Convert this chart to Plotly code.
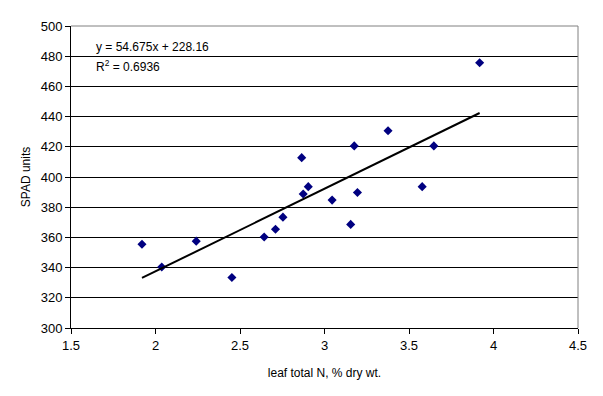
import plotly.graph_objects as go

leaf_n = [1.920, 2.037, 2.241, 2.452, 2.643, 2.710, 2.754, 2.865, 2.874,
          2.904, 3.045, 3.155, 3.176, 3.195, 3.376, 3.578, 3.647, 3.918]
spad = [355.5, 340.4, 357.5, 333.4, 360.3, 365.4, 373.4, 412.8, 388.7,
        393.6, 384.7, 368.6, 420.6, 389.7, 430.6, 393.6, 420.6, 475.7]

slope = 54.675
intercept = 228.16
r2 = 0.6936

x_ticks = [1.5, 2, 2.5, 3, 3.5, 4, 4.5]
x_tick_labels = ["1.5", "2", "2.5", "3", "3.5", "4", "4.5"]
y_ticks = [300, 320, 340, 360, 380, 400, 420, 440, 460, 480, 500]

x_title = "leaf total N, % dry wt."
y_title = "SPAD units"

xmin, xmax = min(leaf_n), max(leaf_n)
trend_x = [xmin, xmax]
trend_y = [slope * v + intercept for v in trend_x]

font = "Liberation Sans, Arial, sans-serif"

fig = go.Figure()
fig.add_trace(go.Scatter(
    x=leaf_n, y=spad, mode="markers",
    marker=dict(symbol="diamond", size=7, color="#000080"),
    showlegend=False, hoverinfo="x+y"))
fig.add_trace(go.Scatter(
    x=trend_x, y=trend_y, mode="lines",
    line=dict(color="black", width=2), showlegend=False, hoverinfo="skip"))

fig.add_annotation(
    xref="paper", yref="paper", x=0.045, y=0.930, xanchor="left", yanchor="middle",
    text=f"y = {slope}x + {intercept}", showarrow=False,
    font=dict(family=font, size=12, color="black"), bgcolor="white")
fig.add_annotation(
    xref="paper", yref="paper", x=0.045, y=0.867, xanchor="left", yanchor="middle",
    text=f"R<sup>2</sup> = {r2}", showarrow=False,
    font=dict(family=font, size=12, color="black"))

fig.update_layout(
    width=603, height=396,
    margin=dict(l=63, r=33, t=18, b=76),
    paper_bgcolor="white", plot_bgcolor="white",
    font=dict(family=font, size=12, color="black"),
    xaxis=dict(
        range=[1.5, 4.5], tickvals=x_ticks, ticktext=x_tick_labels,
        showgrid=False, zeroline=False,
        showline=True, linecolor="black", linewidth=1, mirror=False,
        ticks="outside", ticklen=5, tickcolor="black",
        title=dict(text=x_title, font=dict(size=12), standoff=17),
        tickfont=dict(size=13)),
    yaxis=dict(
        range=[300, 500], tickvals=y_ticks,
        showgrid=True, gridcolor="black", gridwidth=1, zeroline=False,
        showline=True, linecolor="black", linewidth=1,
        ticks="outside", ticklen=5, tickcolor="black",
        title=dict(text=y_title, font=dict(size=12), standoff=7),
        tickfont=dict(size=13)),
    shapes=[
        dict(type="line", xref="paper", yref="paper", x0=0, x1=1, y0=1, y1=1,
             line=dict(color="#808080", width=1)),
        dict(type="line", xref="paper", yref="paper", x0=1, x1=1, y0=0, y1=1,
             line=dict(color="#808080", width=1)),
    ],
)

fig.write_html("out.html")
